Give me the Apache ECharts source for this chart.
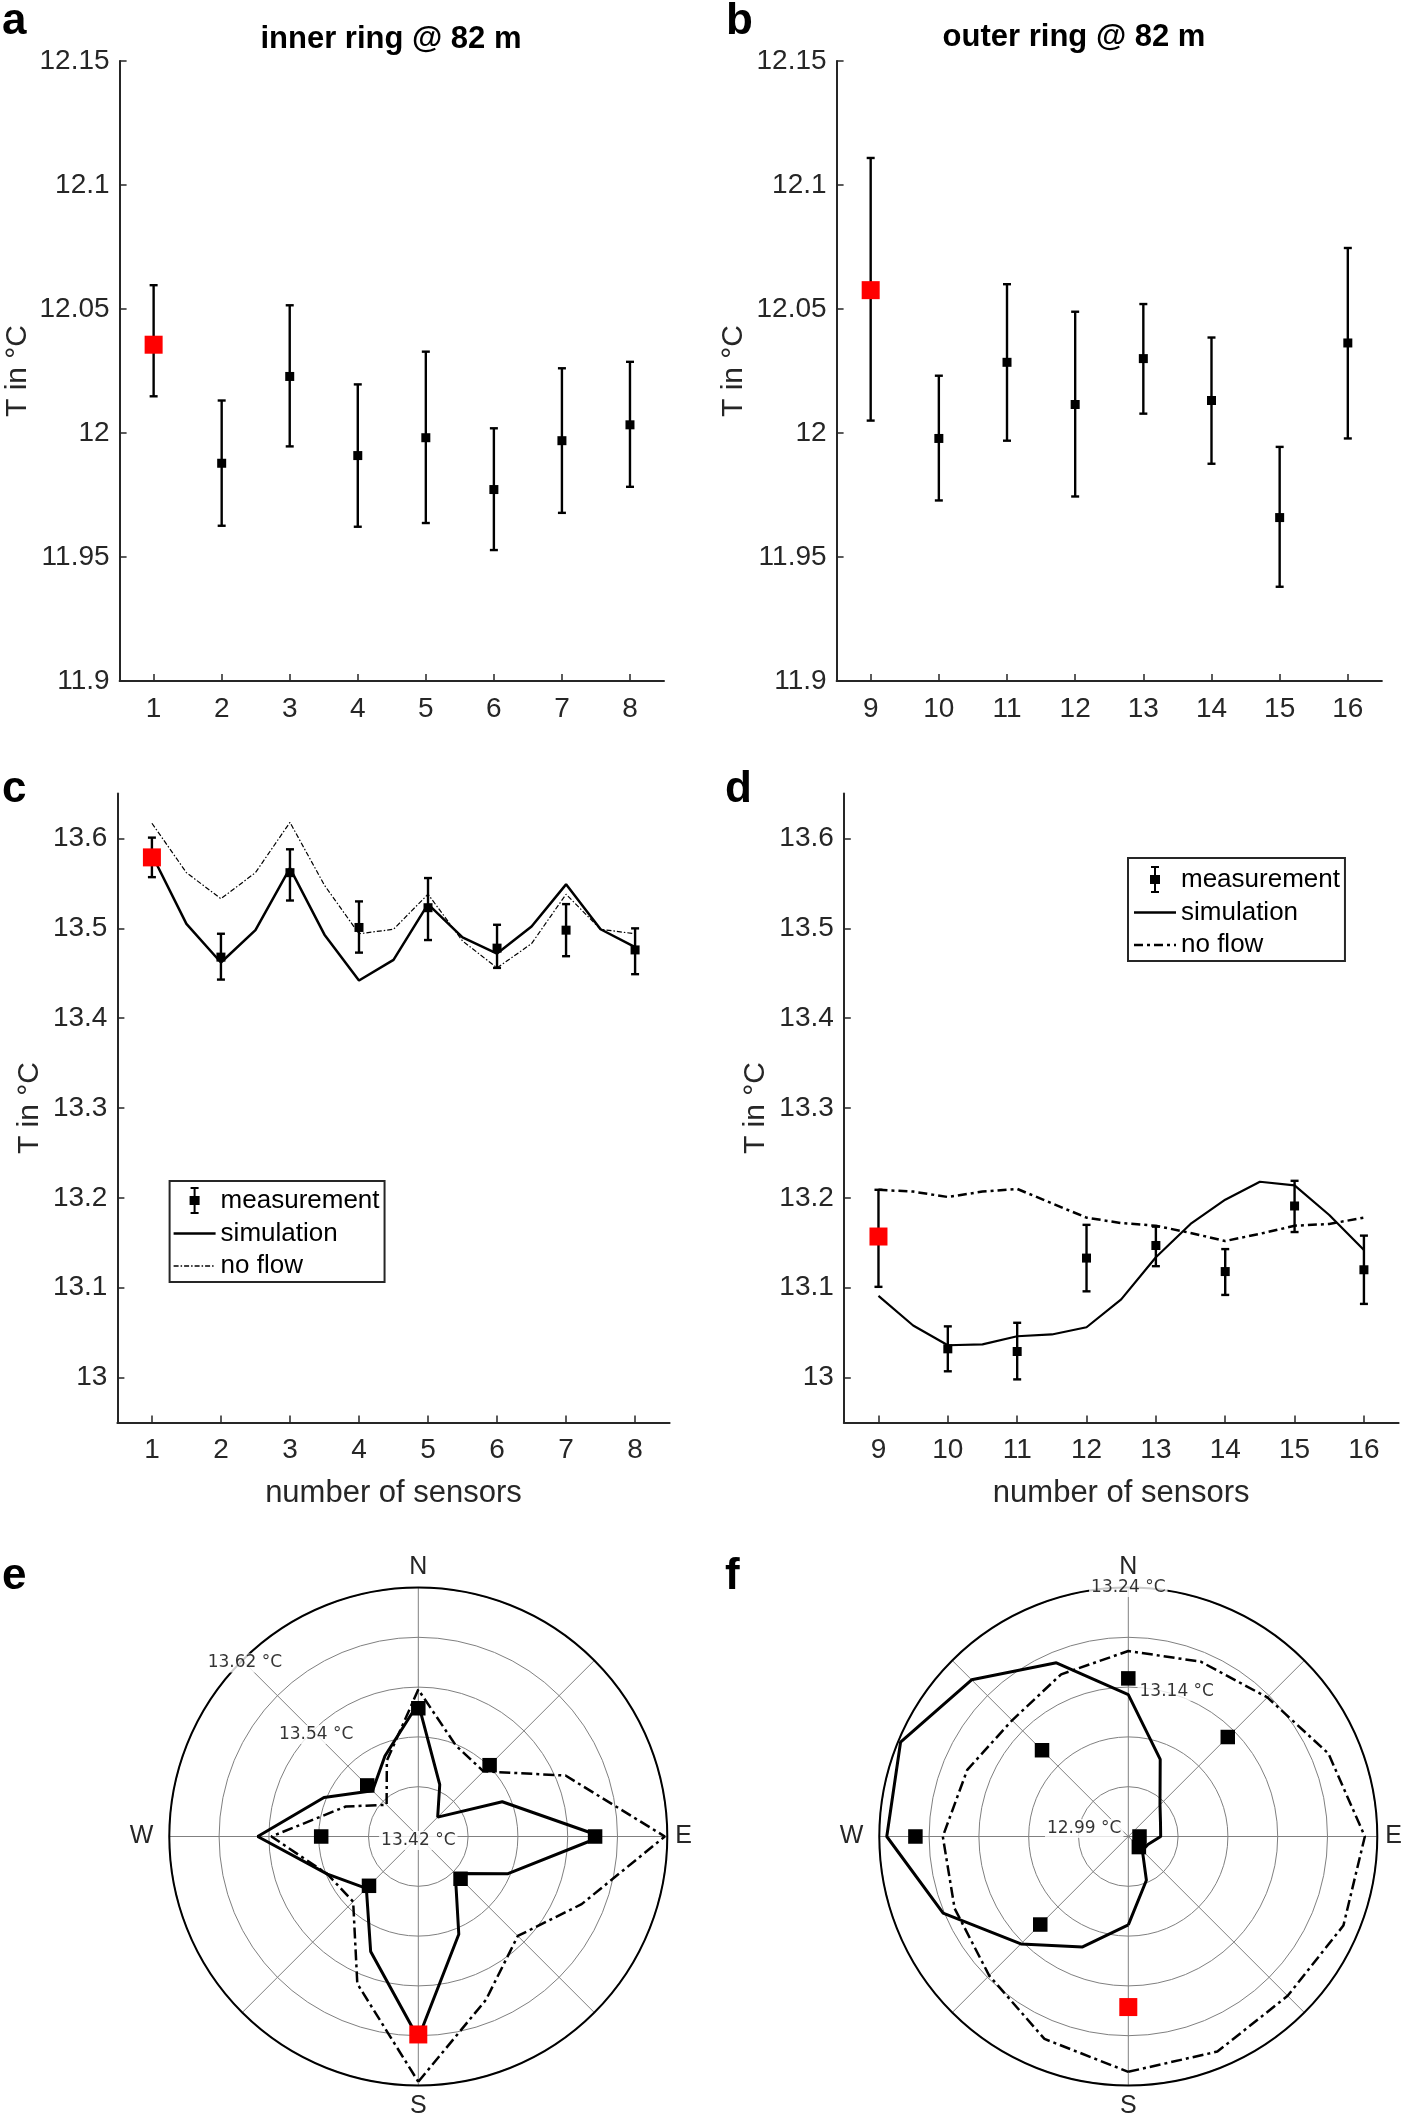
<!DOCTYPE html>
<html>
<head>
<meta charset="utf-8">
<title>sensor temperatures</title>
<script src="https://cdn.jsdelivr.net/npm/echarts@6.0.0/dist/echarts.min.js"></script>
<style>
  html, body { margin: 0; padding: 0; background: #fff; }
  #main { width: 1409px; height: 2120px; }
</style>
</head>
<body>
<div id="main"></div>
<script type="text/javascript">
// sensor numbers and the half-step positions of the simulated curves
var sensorsInner = [1, 2, 3, 4, 5, 6, 7, 8];
var sensorsOuter = [9, 10, 11, 12, 13, 14, 15, 16];
var posInner = [1, 1.5, 2, 2.5, 3, 3.5, 4, 4.5, 5, 5.5, 6, 6.5, 7, 7.5, 8, 8.5];
var posOuter = [9, 9.5, 10, 10.5, 11, 11.5, 12, 12.5, 13, 13.5, 14, 14.5, 15, 15.5, 16, 16.5];

// a: inner ring @ 82 m
var measA = [12.0356, 11.9878, 12.0228, 11.9909, 11.9981, 11.9772, 11.9969, 12.0033];
var lowA  = [12.0148, 11.9626, 11.9946, 11.9622, 11.9637, 11.9528, 11.9678, 11.9783];
var highA = [12.0596, 12.0131, 12.0515, 12.0196, 12.0328, 12.0019, 12.0261, 12.0287];

// b: outer ring @ 82 m
var measB = [12.0576, 11.9978, 12.0285, 12.0115, 12.0300, 12.0131, 11.9659, 12.0363];
var lowB  = [12.0050, 11.9728, 11.9969, 11.9744, 12.0078, 11.9876, 11.9380, 11.9978];
var highB = [12.1109, 12.0231, 12.0600, 12.0489, 12.0520, 12.0385, 11.9944, 12.0746];

// c / e: inner ring
var measC = [13.579, 13.468, 13.562, 13.501, 13.523, 13.478, 13.498, 13.476];
var lowC  = [13.557, 13.443, 13.531, 13.473, 13.487, 13.456, 13.469, 13.449];
var highC = [13.601, 13.494, 13.588, 13.530, 13.556, 13.504, 13.527, 13.500];
var simInner    = [13.582, 13.505, 13.462, 13.498, 13.567, 13.493, 13.442, 13.465, 13.527, 13.490, 13.472, 13.502, 13.549, 13.499, 13.479, 13.520];
var noFlowInner = [13.617, 13.562, 13.533, 13.562, 13.618, 13.548, 13.494, 13.499, 13.538, 13.486, 13.456, 13.483, 13.538, 13.499, 13.494, 13.548];

// d / f: outer ring
var measD = [13.157, 13.032, 13.029, 13.133, 13.147, 13.118, 13.191, 13.120];
var lowD  = [13.101, 13.007, 12.998, 13.096, 13.124, 13.092, 13.162, 13.082];
var highD = [13.209, 13.057, 13.061, 13.170, 13.168, 13.143, 13.219, 13.158];
var simOuter    = [13.091, 13.058, 13.036, 13.037, 13.046, 13.048, 13.056, 13.087, 13.134, 13.171, 13.198, 13.218, 13.214, 13.181, 13.142, 13.116];
var noFlowOuter = [13.209, 13.207, 13.201, 13.207, 13.210, 13.194, 13.178, 13.172, 13.169, 13.161, 13.152, 13.160, 13.169, 13.171, 13.178, 13.196];

// tick values
var ticksA = [11.9, 11.95, 12, 12.05, 12.1, 12.15];
var ticksC = [13, 13.1, 13.2, 13.3, 13.4, 13.5, 13.6];
var compass = ['S', 'E', 'N', 'W'];

// polar ring labels [text, radius value, angle position]
var ringLabelsE = [['13.42 °C', 13.42, 1], ['13.54 °C', 13.536, 6], ['13.62 °C', 13.617, 6]];
var ringLabelsF = [['12.99 °C', 13.056, 14.77], ['13.14 °C', 13.143, 12.59], ['13.24 °C', 13.22, 13]];

var FONT = 'Liberation Sans';
var AX = '#262626';
var RED = '#ff0000';

var myChart = echarts.init(document.getElementById('main'), null, {renderer: 'canvas'});

function xAxisOf(gi, min, max, ticks, withName) {
	var ax = {
		type: 'value', gridIndex: gi, min: min, max: max,
		axisLine: {lineStyle: {color: AX, width: 2}},
		axisTick: {inside: true, length: 7, lineStyle: {color: AX, width: 1.5}, customValues: ticks},
		axisLabel: {customValues: ticks, margin: 14, fontSize: 28, fontFamily: FONT, color: AX},
		splitLine: {show: false}
	};
	if (withName) {
		ax.name = 'number of sensors';
		ax.nameLocation = 'middle';
		ax.nameGap = 55;
		ax.nameTextStyle = {fontSize: 31, fontFamily: FONT, color: AX};
	}
	return ax;
}

function yAxisOf(gi, min, max, ticks, gap) {
	return {
		type: 'value', gridIndex: gi, min: min, max: max,
		name: 'T in °C', nameLocation: 'middle', nameGap: gap,
		nameTextStyle: {fontSize: 30, fontFamily: FONT, color: AX},
		axisLine: {show: true, lineStyle: {color: AX, width: 2}},
		axisTick: {inside: true, length: 7, lineStyle: {color: AX, width: 1.5}, customValues: ticks},
		axisLabel: {customValues: ticks, margin: 10, fontSize: 28, fontFamily: FONT, color: AX},
		splitLine: {show: false}
	};
}

function errorBars(idx, xs, lows, highs) {
	return {
		type: 'custom', xAxisIndex: idx, yAxisIndex: idx, z: 2, silent: true,
		encode: {x: 0, y: [1, 2]},
		data: xs.map(function (x, i) { return [x, lows[i], highs[i]]; }),
		renderItem: function (params, api) {
			var lo = api.coord([api.value(0), api.value(1)]);
			var hi = api.coord([api.value(0), api.value(2)]);
			var st = {stroke: '#000', lineWidth: 2.4};
			return {type: 'group', children: [
				{type: 'line', shape: {x1: lo[0], y1: lo[1], x2: hi[0], y2: hi[1]}, style: st},
				{type: 'line', shape: {x1: hi[0] - 4, y1: hi[1], x2: hi[0] + 4, y2: hi[1]}, style: st},
				{type: 'line', shape: {x1: lo[0] - 4, y1: lo[1], x2: lo[0] + 4, y2: lo[1]}, style: st}
			]};
		}
	};
}

function measPoints(idx, xs, vals, big) {
	return {
		type: 'scatter', name: 'measurement', xAxisIndex: idx, yAxisIndex: idx, z: 5,
		symbol: 'rect', symbolSize: 9, itemStyle: {color: '#000', opacity: 1},
		data: xs.map(function (x, i) {
			if (i == 0) return {value: [x, vals[i]], symbolSize: big, itemStyle: {color: RED, opacity: 1}};
			return [x, vals[i]];
		})
	};
}

function curve(idx, name, pos, vals, n, style) {
	return {
		type: 'line', name: name, xAxisIndex: idx, yAxisIndex: idx, z: 3,
		symbol: 'none', lineStyle: style, itemStyle: {color: '#000'},
		data: pos.slice(0, n).map(function (p, i) { return [p, vals[i]]; })
	};
}

// polar helpers: data is [radius, angle]
function polarCurve(pi, name, pos, vals, style) {
	var d = pos.map(function (p, i) { return [vals[i], p]; });
	d.push([vals[0], pos[0] + 8]);
	return {type: 'line', name: name + ' ', coordinateSystem: 'polar', polarIndex: pi, z: 3,
		symbol: 'none', lineStyle: style, itemStyle: {color: '#000'}, data: d, silent: true};
}

function polarMeas(pi, xs, vals) {
	return {
		type: 'scatter', coordinateSystem: 'polar', polarIndex: pi, z: 5, silent: true,
		symbol: 'rect', symbolSize: 14.5, itemStyle: {color: '#000', opacity: 1},
		data: xs.map(function (p, i) {
			if (i == 0) return {value: [vals[i], p], symbolSize: 18, itemStyle: {color: RED, opacity: 1}};
			return [vals[i], p];
		})
	};
}

function polarLabels(pi, list) {
	return {
		type: 'scatter', coordinateSystem: 'polar', polarIndex: pi, z: 8, silent: true,
		symbolSize: 1, itemStyle: {color: 'transparent'},
		label: {show: true, position: 'inside', formatter: '{b}', fontFamily: 'DejaVu Sans',
			fontSize: 17, color: '#000', backgroundColor: '#fff', padding: [1, 2]},
		data: list.map(function (l) {
			var it = {name: l[0], value: [l[1], l[2]]};
			if (l[0] == '13.42 °C') it.label = {offset: [0, 4]};
			return it;
		})
	};
}

function angleAxisOf(pi, start) {
	return {
		polarIndex: pi, type: 'value', min: start, max: start + 8, interval: 1,
		startAngle: 270, clockwise: false,
		axisLine: {show: true, lineStyle: {color: '#000', width: 2}},
		axisTick: {show: false},
		axisLabel: {margin: 8, fontSize: 25, fontFamily: FONT, color: AX,
			rich: {w: {fontSize: 25, fontFamily: FONT, color: AX, padding: [0, 8, 0, 0]}},
			formatter: function (v) {
				var k = v - start;
				if (k % 2 == 0 && k < 8) {
					if (compass[k / 2] == 'W') return '{w|W}';
					return compass[k / 2];
				}
				return '';
			}},
		splitLine: {show: true, lineStyle: {color: '#808080', width: 1}}
	};
}

function radiusAxisOf(pi, min, max) {
	return {
		polarIndex: pi, type: 'value', min: min, max: max, interval: 0.04,
		axisLine: {show: false}, axisTick: {show: false}, axisLabel: {show: false},
		splitLine: {show: true, lineStyle: {color: '#808080', width: 1}}
	};
}

// legend icons drawn as filled paths
var errIcon = 'path://M2,0h8v2h-8z M5,0h2v27h-2z M2,25h8v2h-8z M1,9h10v9h-10z';
var solidIcon = 'path://M0,0h42v2.5h-42z';
var thinDashIcon = 'path://M0,0h5v1.3h-5z M7,0h1.5v1.3h-1.5z M10.5,0h5v1.3h-5z M17.5,0h1.5v1.3h-1.5z M21,0h5v1.3h-5z M28,0h1.5v1.3h-1.5z M31.5,0h5v1.3h-5z M38.5,0h1.5v1.3h-1.5z M42,0h0.01v1.3h-0.01z';
var thickDashIcon = 'path://M0,0h9v2.5h-9z M13,0h3v2.5h-3z M20,0h9v2.5h-9z M33,0h3v2.5h-3z M40,0h2v2.5h-2z';

function legendOf(left, top, pad, dashIcon) {
	return {
		orient: 'vertical', left: left, top: top, padding: pad, itemGap: 6.5,
		itemWidth: 42, itemHeight: 27, selectedMode: false, symbolKeepAspect: true,
		borderColor: AX, borderWidth: 2, backgroundColor: '#fff',
		textStyle: {fontSize: 26, fontFamily: FONT, color: '#000'},
		data: [
			{name: 'measurement', icon: errIcon},
			{name: 'simulation', icon: solidIcon},
			{name: 'no flow', icon: dashIcon}
		]
	};
}

var thinDashDot = {color: '#000', width: 1.2, type: [5, 2, 1.5, 2]};
var thickDashDot = {color: '#000', width: 2.5, type: [9, 4, 3, 4]};
var polarDashDot = {color: '#000', width: 2.5, type: [11, 4, 3, 4]};

var chartOption = {
	backgroundColor: '#fff',
	animation: false,
	grid: [
		{left: 119.6, top: 61, width: 544.4, height: 620},
		{left: 836.6, top: 61, width: 545.3, height: 620},
		{left: 117.4, top: 793.6, width: 552.2, height: 628.9},
		{left: 843.8, top: 793.6, width: 554.8, height: 628.9}
	],
	xAxis: [
		xAxisOf(0, 0.5, 8.5, sensorsInner, false),
		xAxisOf(1, 8.5, 16.5, sensorsOuter, false),
		xAxisOf(2, 0.5, 8.5, sensorsInner, true),
		xAxisOf(3, 8.5, 16.5, sensorsOuter, true)
	],
	yAxis: [
		yAxisOf(0, 11.9, 12.15, ticksA, 87),
		yAxisOf(1, 11.9, 12.15, ticksA, 88),
		yAxisOf(2, 12.95, 13.65, ticksC, 73),
		yAxisOf(3, 12.95, 13.65, ticksC, 73)
	],
	polar: [
		{center: [418.3, 1836.5], radius: 249},
		{center: [1128.3, 1836.5], radius: 249}
	],
	angleAxis: [angleAxisOf(0, 1), angleAxisOf(1, 9)],
	radiusAxis: [radiusAxisOf(0, 13.42, 13.62), radiusAxisOf(1, 13.02, 13.22)],
	legend: [
		legendOf(169.6, 1181, [6, 5, 3, 4], thinDashIcon),
		legendOf(1128, 858, [8, 5, 3, 6], thickDashIcon)
	],
	graphic: [
		{type: 'text', style: {text: 'inner ring @ 82 m', x: 391, y: 39.5, font: 'bold 31px "Liberation Sans"', fill: '#000', textAlign: 'center', textVerticalAlign: 'middle'}},
		{type: 'text', style: {text: 'outer ring @ 82 m', x: 1074, y: 37.5, font: 'bold 31px "Liberation Sans"', fill: '#000', textAlign: 'center', textVerticalAlign: 'middle'}},
		{type: 'text', style: {text: 'a', x: 2, y: 21.5, font: 'bold 44px "Liberation Sans"', fill: '#000', textAlign: 'left', textVerticalAlign: 'middle'}},
		{type: 'text', style: {text: 'b', x: 726, y: 22, font: 'bold 44px "Liberation Sans"', fill: '#000', textAlign: 'left', textVerticalAlign: 'middle'}},
		{type: 'text', style: {text: 'c', x: 2, y: 790, font: 'bold 44px "Liberation Sans"', fill: '#000', textAlign: 'left', textVerticalAlign: 'middle'}},
		{type: 'text', style: {text: 'd', x: 725, y: 790, font: 'bold 44px "Liberation Sans"', fill: '#000', textAlign: 'left', textVerticalAlign: 'middle'}},
		{type: 'text', style: {text: 'e', x: 2, y: 1577, font: 'bold 44px "Liberation Sans"', fill: '#000', textAlign: 'left', textVerticalAlign: 'middle'}},
		{type: 'text', style: {text: 'f', x: 725, y: 1577, font: 'bold 44px "Liberation Sans"', fill: '#000', textAlign: 'left', textVerticalAlign: 'middle'}}
	],
	series: [
		errorBars(0, sensorsInner, lowA, highA),
		measPoints(0, sensorsInner, measA, 18),
		errorBars(1, sensorsOuter, lowB, highB),
		measPoints(1, sensorsOuter, measB, 18),

		errorBars(2, sensorsInner, lowC, highC),
		curve(2, 'simulation', posInner, simInner, 15, {color: '#000', width: 2.5}),
		curve(2, 'no flow', posInner, noFlowInner, 15, thinDashDot),
		measPoints(2, sensorsInner, measC, 18),

		errorBars(3, sensorsOuter, lowD, highD),
		curve(3, 'simulation', posOuter, simOuter, 15, {color: '#000', width: 2.2}),
		curve(3, 'no flow', posOuter, noFlowOuter, 15, thickDashDot),
		measPoints(3, sensorsOuter, measD, 18),

		polarCurve(0, 'simulation', posInner, simInner, {color: '#000', width: 3}),
		polarCurve(0, 'no flow', posInner, noFlowInner, polarDashDot),
		polarMeas(0, sensorsInner, measC),
		polarLabels(0, ringLabelsE),

		polarCurve(1, 'simulation', posOuter, simOuter, {color: '#000', width: 3}),
		polarCurve(1, 'no flow', posOuter, noFlowOuter, polarDashDot),
		polarMeas(1, sensorsOuter, measD),
		polarLabels(1, ringLabelsF)
	]
};

myChart.setOption(chartOption);
</script>
</body>
</html>
